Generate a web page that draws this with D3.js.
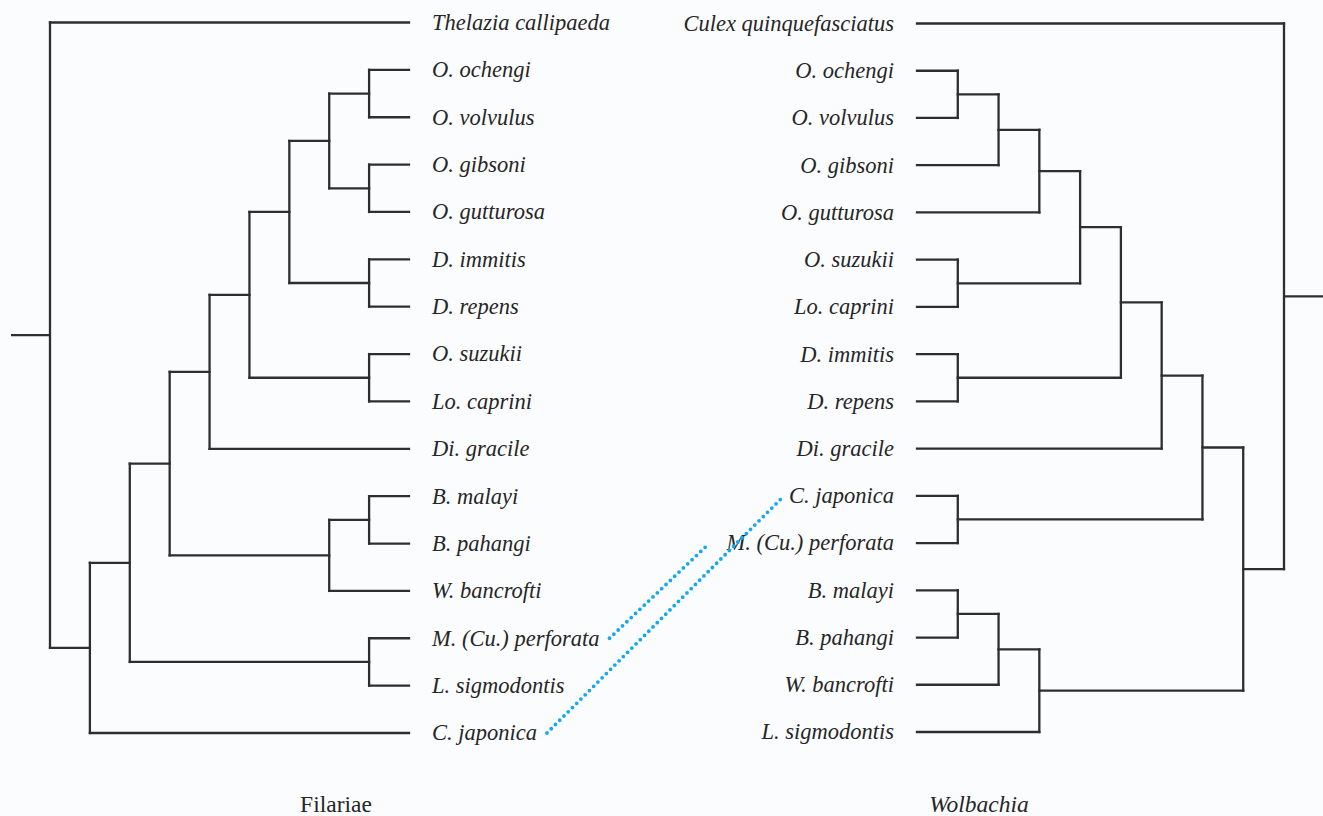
<!DOCTYPE html>
<html>
<head>
<meta charset="utf-8">
<script src="https://cdn.jsdelivr.net/npm/d3@7"></script>
<style>
  html, body { margin: 0; padding: 0; background: #fbfcfe; }
  svg { display: block; }
</style>
</head>
<body>
<svg id="chart" width="1323" height="816"></svg>
<script>
// ---- data ----
const filariaeTree = ["Thelazia callipaeda",
  [[[[[[[["O. ochengi", "O. volvulus"], ["O. gibsoni", "O. gutturosa"]], ["D. immitis", "D. repens"]],
        ["O. suzukii", "Lo. caprini"]], "Di. gracile"],
      [["B. malayi", "B. pahangi"], "W. bancrofti"]],
     ["M. (Cu.) perforata", "L. sigmodontis"]],
   "C. japonica"]];

const wolbachiaTree = ["Culex quinquefasciatus",
  [[[[[[[["O. ochengi", "O. volvulus"], "O. gibsoni"], "O. gutturosa"], ["O. suzukii", "Lo. caprini"]],
        ["D. immitis", "D. repens"]], "Di. gracile"],
     ["C. japonica", "M. (Cu.) perforata"]],
   [[["B. malayi", "B. pahangi"], "W. bancrofti"], "L. sigmodontis"]]];

const incongruentLinks = [
  ["C. japonica", "C. japonica"],
  ["M. (Cu.) perforata", "M. (Cu.) perforata"]
];

const treeTitles = ["Filariae", "Wolbachia"];

// ---- drawing ----
const svg = d3.select("#chart");
const lineColor = "#2e2e2e";
const textColor = "#262626";
const labelFont = "'Liberation Serif', 'Times New Roman', serif";
const fontSize = 22.5;

function build(data) {
  return d3.hierarchy(data, d => Array.isArray(d) ? d : null);
}

function layoutTree(root, xScale, yScale) {
  root.leaves().forEach((l, i) => { l.py = yScale(i); });
  root.eachAfter(n => {
    n.px = xScale(n.height);
    if (n.children) {
      n.py = (n.children[0].py + n.children[n.children.length - 1].py) / 2;
    }
  });
}

function drawTree(root, g) {
  const segs = [];
  root.each(n => {
    if (n.children) {
      const c0 = n.children[0], c1 = n.children[n.children.length - 1];
      segs.push([n.px, c0.py, n.px, c1.py]);
      n.children.forEach(c => segs.push([n.px, c.py, c.px, c.py]));
    }
  });
  g.selectAll("line.branch").data(segs).join("line")
    .attr("class", "branch")
    .attr("x1", d => d[0]).attr("y1", d => d[1])
    .attr("x2", d => d[2]).attr("y2", d => d[3])
    .attr("stroke", lineColor).attr("stroke-width", 2.3)
    .attr("stroke-linecap", "square");
}

const yScaleL = d3.scaleLinear().domain([0, 15]).range([22.5, 733]);
const yScaleR = d3.scaleLinear().domain([0, 15]).range([23.5, 732]);

const leftRoot = build(filariaeTree);
const rightRoot = build(wolbachiaTree);

const xLeft = d3.scaleLinear().domain([0, leftRoot.height]).range([409, 50]);
const xRight = d3.scaleLinear().domain([0, rightRoot.height]).range([917, 1284]);

layoutTree(leftRoot, xLeft, yScaleL);
layoutTree(rightRoot, xRight, yScaleR);

const gL = svg.append("g");
const gR = svg.append("g");
drawTree(leftRoot, gL);
drawTree(rightRoot, gR);

// root stubs
gL.append("line").attr("x1", 11).attr("x2", leftRoot.px)
  .attr("y1", leftRoot.py).attr("y2", leftRoot.py)
  .attr("stroke", lineColor).attr("stroke-width", 2.3);
gR.append("line").attr("x1", rightRoot.px).attr("x2", 1323)
  .attr("y1", rightRoot.py).attr("y2", rightRoot.py)
  .attr("stroke", lineColor).attr("stroke-width", 2.3);

// labels
const leftLabels = gL.selectAll("text.leaf").data(leftRoot.leaves()).join("text")
  .attr("class", "leaf")
  .attr("x", d => d.px + 23).attr("y", d => d.py).attr("dy", "0.33em")
  .attr("font-family", labelFont).attr("font-style", "italic")
  .attr("font-size", fontSize).attr("fill", textColor)
  .text(d => d.data);

const rightLabels = gR.selectAll("text.leaf").data(rightRoot.leaves()).join("text")
  .attr("class", "leaf")
  .attr("x", d => d.px - 23).attr("y", d => d.py).attr("dy", "0.33em")
  .attr("text-anchor", "end")
  .attr("font-family", labelFont).attr("font-style", "italic")
  .attr("font-size", fontSize).attr("fill", textColor)
  .text(d => d.data);

// titles
svg.append("text").attr("x", 336).attr("y", 812).attr("text-anchor", "middle")
  .attr("font-family", labelFont).attr("font-size", 23.5).attr("fill", textColor)
  .text(treeTitles[0]);
svg.append("text").attr("x", 979).attr("y", 812).attr("text-anchor", "middle")
  .attr("font-family", labelFont).attr("font-style", "italic").attr("font-size", 23.5).attr("fill", textColor)
  .text(treeTitles[1]);

// dotted links between incongruent taxa
const leftNodes = new Map(), rightNodes = new Map();
leftLabels.each(function(d) { leftNodes.set(d.data, { d, w: this.getComputedTextLength() }); });
rightLabels.each(function(d) { rightNodes.set(d.data, { d, w: this.getComputedTextLength() }); });

const linkData = incongruentLinks.map(([a, b], i) => {
  const L = leftNodes.get(a), R = rightNodes.get(b);
  return {
    x1: L.d.px + 23 + L.w + 10, y1: L.d.py,
    x2: R.d.px - 23 - R.w - (i === 0 ? 7 : 19), y2: R.d.py + 2
  };
});
svg.selectAll("line.link").data(linkData).join("line")
  .attr("class", "link")
  .attr("x1", d => d.x1).attr("y1", d => d.y1)
  .attr("x2", d => d.x2).attr("y2", d => d.y2)
  .attr("stroke", "#14a8ef").attr("stroke-width", 3.8)
  .attr("stroke-linecap", "round").attr("stroke-dasharray", "0 6");
</script>
</body>
</html>
